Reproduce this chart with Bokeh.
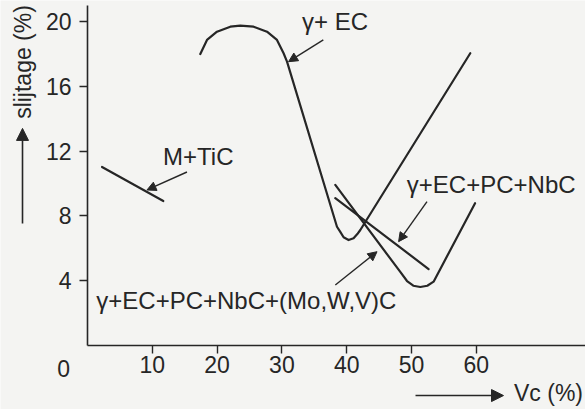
from bokeh.plotting import figure
from bokeh.models import Range1d, FixedTicker, Label, Arrow, NormalHead
from bokeh.embed import file_html
from bokeh.resources import INLINE

# ---------------- data ----------------
x_ticks = [10, 20, 30, 40, 50, 60]
y_ticks = [4, 8, 12, 16, 20]

# M+TiC
mtic_x = [2.24, 11.70]
mtic_y = [11.02, 8.92]

# gamma + EC
ec_x = [17.41, 18.44, 19.98, 22.04, 23.58, 25.63, 27.70, 29.24, 30.26, 30.79,
        38.50, 39.01, 39.52, 40.29, 41.06, 41.64, 42.10, 59.07]
ec_y = [17.99, 18.86, 19.37, 19.68, 19.74, 19.68, 19.37, 18.86, 18.04, 17.52,
        7.33, 7.01, 6.68, 6.51, 6.62, 6.88, 7.13, 18.04]

# gamma + EC + PC + NbC
nbc_x = [38.24, 48.27, 49.31, 50.28, 51.36, 52.44, 53.41, 59.81]
nbc_y = [9.91, 4.54, 3.98, 3.69, 3.61, 3.69, 3.94, 8.78]

# gamma + EC + PC + NbC + (Mo,W,V)C
mwv_x = [38.24, 52.64]
mwv_y = [9.09, 4.72]

# label texts and anchor points
label_text = ["M+TiC", "\u03b3+ EC", "\u03b3+EC+PC+NbC", "\u03b3+EC+PC+NbC+(Mo,W,V)C"]
label_x = [17.10, 38.20, 62.30, 1.36]
label_y = [11.64, 20.00, 9.95, 2.75]
label_align = ["center", "center", "center", "left"]

# pointer arrows: tail -> head
ptr_x0 = [15.35, 36.39, 52.39, 38.24]
ptr_y0 = [10.71, 18.86, 8.88, 3.73]
ptr_x1 = [9.18, 31.03, 48.01, 44.68]
ptr_y1 = [9.60, 17.52, 6.41, 5.79]

# axis titles
ytitle = "slijtage (%)"
xtitle = "Vc (%)"

# ---------------- styling ----------------
BG = "#f4f4f2"
INK = "#262626"
FONT = "Liberation Sans"

p = figure(width=585, height=409,
           x_range=Range1d(-13.426, 76.852), y_range=Range1d(-3.951, 21.296),
           output_backend="svg", toolbar_location=None,
           min_border_left=0, min_border_right=0,
           min_border_top=0, min_border_bottom=0,
           background_fill_color=BG, border_fill_color=BG,
           outline_line_color=None)
p.grid.visible = False

p.xaxis.fixed_location = 0
p.yaxis.fixed_location = 0
p.xaxis.bounds = (0, 76.852)
p.yaxis.bounds = (0, 20.99)

for ax, ticks in ((p.xaxis, x_ticks), (p.yaxis, y_ticks)):
    ax.ticker = FixedTicker(ticks=ticks, minor_ticks=[])
    ax.major_tick_out = 8
    ax.major_tick_in = 0
    ax.minor_tick_out = 0
    ax.axis_line_width = 1.6
    ax.axis_line_color = INK
    ax.major_tick_line_color = INK
    ax.major_tick_line_width = 1.4
    ax.major_label_text_font = FONT
    ax.major_label_text_font_size = "23px"
    ax.major_label_text_color = INK
p.xaxis.major_label_standoff = 3
p.yaxis.major_label_standoff = 8

for xs, ys in ((mtic_x, mtic_y), (ec_x, ec_y), (nbc_x, nbc_y), (mwv_x, mwv_y)):
    p.line(xs, ys, line_color=INK, line_width=2.2, line_join="round", line_cap="round")

for t, x, y, a in zip(label_text, label_x, label_y, label_align):
    p.add_layout(Label(x=x, y=y, text=t, text_align=a, text_baseline="middle",
                       text_font=FONT, text_font_size="24px", text_color=INK))

for x0, y0, x1, y1 in zip(ptr_x0, ptr_y0, ptr_x1, ptr_y1):
    p.add_layout(Arrow(x_start=x0, y_start=y0, x_end=x1, y_end=y1,
                       line_color=INK, line_width=1.4,
                       end=NormalHead(size=9, fill_color=INK, line_color=INK, line_width=1)))

# corner zero label
p.add_layout(Label(x=-3.70, y=-1.42, text="0", text_align="center", text_baseline="middle",
                   text_font=FONT, text_font_size="23px", text_color=INK))

# x title with arrow
p.add_layout(Label(x=71.14, y=-2.96, text=xtitle, text_align="center", text_baseline="middle",
                   text_font=FONT, text_font_size="23px", text_color=INK))
p.add_layout(Arrow(x_start=50.62, y_start=-3.09, x_end=64.2, y_end=-3.09,
                   line_color=INK, line_width=1.6,
                   end=NormalHead(size=12, fill_color=INK, line_color=INK, line_width=1)))

# y title with arrow
p.add_layout(Label(x=-10.03, y=17.5, text=ytitle, angle=1.5708, text_align="center",
                   text_baseline="middle", text_font=FONT, text_font_size="23px", text_color=INK))
p.add_layout(Arrow(x_start=-10.03, y_start=7.53, x_end=-10.03, y_end=13.40,
                   line_color=INK, line_width=1.6,
                   end=NormalHead(size=12, fill_color=INK, line_color=INK, line_width=1)))

open("out.html", "w").write(file_html(p, INLINE))
